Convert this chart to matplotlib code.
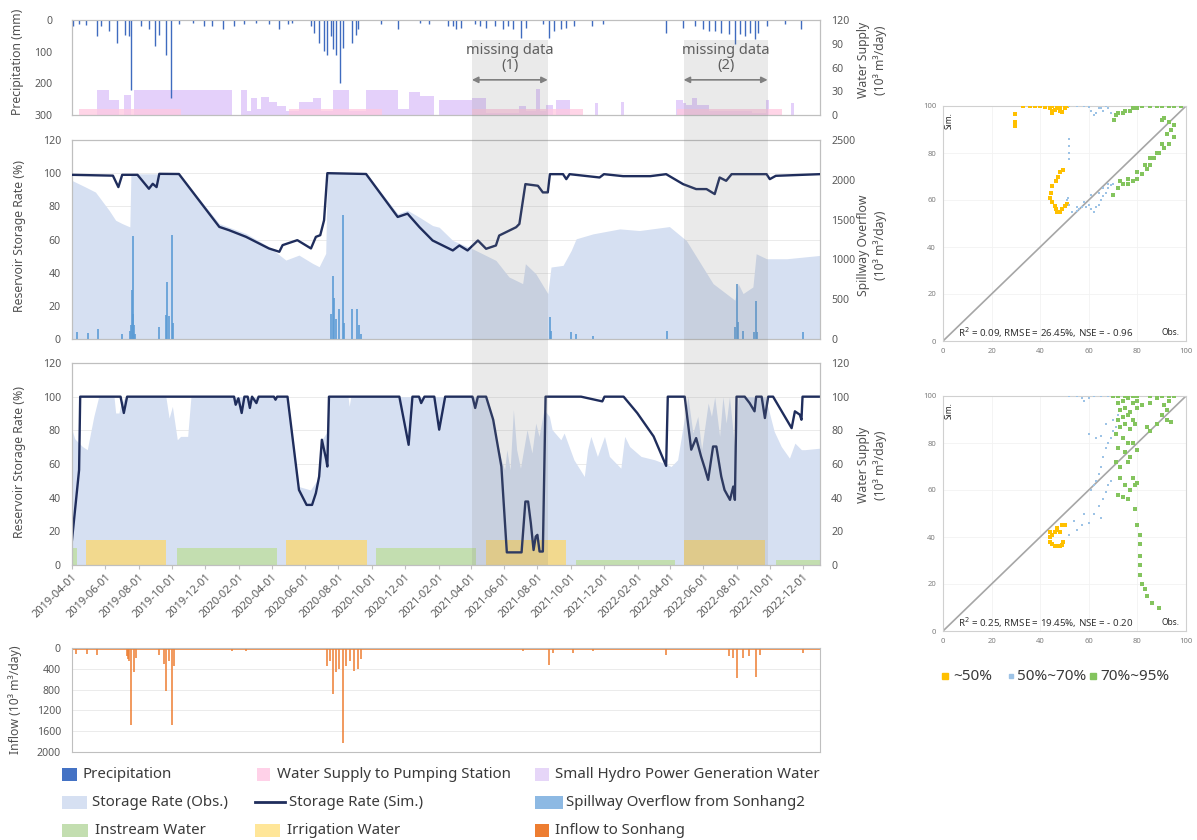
import numpy as np
import matplotlib
matplotlib.use('Agg')
import matplotlib.pyplot as plt
import matplotlib.dates as mdates
import matplotlib.transforms as mtransforms
from matplotlib.patches import Rectangle
from matplotlib.lines import Line2D

plt.rcParams['font.family'] = ['Noto Sans', 'DejaVu Sans']

START = np.datetime64('2019-04-01')
END = np.datetime64('2023-01-01')

# ---------------- data (days counted from 2019-04-01) ----------------
precip_days = [1, 13, 26, 45, 53, 68, 83, 98, 105, 109, 126, 141, 153, 160, 172, 181, 196, 221, 242,
               257, 276, 297, 316, 337, 361, 380, 395, 404, 438, 444, 453, 462, 468, 475, 478, 484,
               491, 496, 514, 520, 524, 566, 597,
               637, 655, 689, 698, 704, 713, 738, 747, 759, 775, 790, 799, 808, 823, 832, 863, 875,
               884, 896, 906, 921, 954, 973, 1089, 1120, 1141, 1156, 1168, 1178, 1190, 1205, 1215,
               1224, 1233, 1242, 1251, 1257, 1273, 1306, 1337]
precip_mm = [19, 14, 17, 51, 19, 35, 72, 46, 51, 220, 19, 30, 83, 46, 109, 247, 14, 9, 19,
             19, 30, 19, 14, 9, 14, 30, 14, 9, 19, 40, 72, 99, 109, 51, 93, 109,
             199, 88, 72, 46, 30, 14, 30,
             8, 13, 19, 19, 30, 24, 14, 19, 24, 19, 30, 19, 30, 56, 24, 14, 56,
             35, 30, 24, 19, 19, 14, 40, 24, 19, 30, 35, 35, 40, 45, 77,
             45, 51, 40, 61, 40, 19, 14, 30]

pump_days = [0, 13, 200, 398, 569, 734, 936, 1108, 1301, 1371]
pump_supply = [0, 8, 0, 8, 0, 8, 0, 8, 0, 0]

hydro_days = [0, 46, 68, 86, 95, 108, 114, 200, 294, 310, 321, 328, 340, 346, 361, 376, 392, 416,
              441, 456, 478, 508, 539, 597, 618, 637, 664, 673, 734, 759, 820, 832, 851, 857, 869,
              881, 887, 912, 958, 964, 1006, 1012, 1107, 1119, 1125, 1137, 1146, 1168, 1247, 1272,
              1278, 1318, 1324, 1371]
hydro_supply = [0, 32, 19, 0, 25, 0, 32, 31, 0, 32, 5, 21, 8, 23, 17, 11, 5, 17,
                22, 5, 32, 5, 32, 8, 29, 24, 0, 19, 21, 3, 11, 5, 33, 5, 13,
                0, 19, 0, 15, 0, 17, 0, 19, 15, 13, 21, 13, 5, 3, 19,
                0, 15, 0, 0]

# Sonhang2 reservoir (panel 2)
sim2_days = [0, 75, 85, 92, 120, 141, 148, 155, 160, 196, 270, 288, 319, 361, 380, 386, 413, 438,
             447, 455, 462, 468, 539, 597, 615, 637, 661, 698, 710, 725, 744, 759, 777, 783, 814,
             820, 831, 854, 863, 872, 876, 900, 906, 912, 967, 975, 1010, 1060, 1089, 1120, 1144,
             1163, 1178, 1187, 1199, 1209, 1273, 1279, 1290, 1371]
sim2_rate = [99, 98.5, 91.6, 99, 99, 90.6, 93.6, 91.6, 99.6, 99.5, 67.6, 65.6, 61.6, 54.6, 52.6, 56.6,
             59.6, 54.6, 61.6, 62.6, 71.6, 100, 99.5, 73.6, 75.6, 67.4, 59.4, 53.4, 56.4, 53.4, 59.4,
             54.4, 56.4, 62.4, 67.4, 69.4, 93.4, 92.4, 88.4, 88.4, 99.4, 99.4, 96.4, 99.4, 97.4,
             99.4, 98.2, 98.2, 99.4, 93.4, 90.4, 90.4, 87.4, 97.4, 95.4, 99.4, 99.4, 96.4, 98.4, 99.4]
obs2_days = [0, 25, 43, 68, 80, 92, 106, 108, 196, 270, 319, 361, 392, 416, 441, 453, 465, 468, 539,
             597, 615, 637, 661, 673, 698, 734, 777, 801, 826, 831, 850, 872, 878, 900, 915, 924,
             955, 1004, 1040, 1095, 1126, 1175, 1215, 1221, 1230, 1248, 1254, 1273, 1310, 1371]
obs2_rate = [95.6, 91.6, 88.6, 77.6, 71.6, 69.6, 67.6, 99.6, 99.6, 69.6, 63.6, 55.6, 47.6, 50.6, 45.6,
             43.6, 51.6, 100, 100, 75.6, 77.6, 73.4, 68.4, 67.4, 59.4, 54.4, 47.4, 37.4, 33.4, 45.4,
             39.4, 27.4, 43.4, 44.4, 53.4, 60.4, 63.4, 66.4, 65.4, 67.8, 59.4, 33.4, 23.4, 33.4,
             27.4, 31.4, 51.4, 48.4, 48.4, 50.4]
spill_days = [10, 30, 48, 92, 106, 108, 110, 111, 112, 114, 116, 160, 173, 175, 177, 184, 186, 475,
              478, 480, 483, 490, 496, 498, 514, 523, 526, 530, 876, 878, 915, 924, 955, 1090, 1216,
              1218, 1221, 1230, 1250, 1254, 1256, 1340]
spill_flow = [90, 80, 120, 60, 100, 170, 620, 1290, 320, 170, 60, 150, 300, 720, 290, 1310, 200, 310,
              790, 520, 250, 375, 1560, 200, 375, 375, 170, 60, 280, 100, 85, 60, 40, 104, 150,
              690, 210, 100, 85, 480, 90, 85]

# Sonhang reservoir (panel 3)
sim3_days = [0, 13, 15, 89, 95, 101, 297, 300, 305, 311, 316, 322, 326, 330, 338, 342, 370, 373, 376,
             395, 416, 430, 440, 447, 453, 458, 466, 468, 471, 600, 617, 624, 636, 640, 646, 664,
             673, 684, 734, 739, 744, 759, 772, 787, 797, 824, 831, 836, 841, 846, 850, 853, 857,
             863, 868, 933, 972, 976, 1011, 1036, 1066, 1089, 1092, 1123, 1135, 1144, 1153, 1160,
             1166, 1175, 1181, 1190, 1196, 1206, 1212, 1215, 1218, 1233, 1242, 1251, 1254, 1264,
             1270, 1276, 1285, 1319, 1325, 1334, 1337, 1339, 1371]
sim3_rate = [14.9, 56.5, 100, 100, 90.3, 100, 100, 95.2, 99, 90.3, 100, 100, 93.3, 100, 96.2, 100, 100,
             98.2, 100, 100, 44.6, 35.7, 35.7, 42.7, 52.6, 74.4, 62.5, 58.5, 100, 100, 71.4, 100,
             100, 96.2, 100, 100, 80.4, 100, 100, 93.3, 100, 100, 86.3, 58.5, 7.5, 7.5, 37.7, 37.7,
             24.8, 8.9, 16.9, 17.9, 8, 8, 100, 100, 97.2, 100, 100, 90.3, 76.4, 58.9, 100, 100, 68.5,
             75.4, 64.5, 57.3, 50.6, 70.4, 70.4, 52.6, 44.6, 38.7, 46.6, 38.7, 100, 100, 96.2, 91.3,
             100, 100, 87.3, 100, 100, 81.3, 91.3, 89.3, 86.3, 100, 100]
obs3_days = [0, 5, 19, 28, 40, 49, 77, 80, 86, 89, 98, 172, 178, 184, 193, 199, 212, 218, 395, 416,
             437, 450, 458, 466, 470, 506, 508, 511, 759, 787, 793, 797, 803, 809, 815, 822, 834, 843,
             850, 856, 865, 875, 880, 896, 902, 920, 939, 945, 951, 963, 976, 985, 1006, 1013, 1022,
             1043, 1068, 1092, 1098, 1110, 1123, 1129, 1138, 1147, 1154, 1166, 1172, 1178, 1187,
             1193, 1199, 1205, 1215, 1221, 1270, 1276, 1287, 1300, 1315, 1325, 1337, 1343, 1371]
obs3_rate = [80.4, 75, 70.4, 68.5, 88.3, 100, 100, 90.3, 90.3, 95.2, 100, 100, 87.3, 94.2, 74.4, 76.4,
             76.4, 100, 100, 46.6, 44.6, 50.6, 74.4, 78.4, 100, 100, 94.2, 100, 100, 62.5, 56.5, 68.5,
             56.5, 92.3, 68.5, 57.5, 80.4, 66.5, 84.3, 76.4, 92.3, 88.3, 80.4, 74.4, 78.4, 62.5,
             52.6, 68.5, 76.4, 64.5, 76.4, 64.5, 57.5, 76.4, 70.4, 64.5, 62.5, 59.5, 58.5, 62.5,
             88.3, 100, 78.4, 88.3, 68.5, 96.2, 88.3, 100, 76.4, 100, 84.3, 100, 68.5, 100, 100,
             93.3, 79.4, 70.4, 63.5, 72.4, 68.5, 68.5, 69.4]

irrigation_start = ['2019-04-27', '2020-04-28', '2021-04-28', '2022-04-27']
irrigation_end = ['2019-09-21', '2020-09-22', '2021-09-22', '2022-09-22']
irrigation_supply = [15, 15, 15, 15]
instream_start = ['2019-04-01', '2019-10-11', '2020-10-09', '2021-10-11', '2022-10-12']
instream_end = ['2019-04-11', '2020-04-11', '2021-04-11', '2022-04-10', '2023-01-01']
instream_supply = [10, 10, 10, 3, 3]

inflow_days = [7, 28, 46, 100, 102, 105, 109, 114, 118, 160, 168, 172, 178, 184, 187, 294, 319, 468,
               472, 478, 484, 490, 496, 502, 510, 517, 524, 530, 826, 875, 881, 918, 955, 1089, 1205,
               1212, 1218, 1230, 1240, 1254, 1261, 1340]
inflow_flow = [110, 110, 143, 150, 208, 250, 1478, 470, 200, 143, 300, 827, 250, 1478, 340, 60, 60, 340,
               250, 890, 470, 400, 1836, 340, 250, 436, 400, 208, 60, 326, 100, 100, 60, 130, 150,
               200, 586, 200, 150, 554, 130, 100]
inflow_base = 30

missing_start = ['2021-04-03', '2022-04-26']
missing_end = ['2021-08-20', '2022-09-27']
missing_labels = ['missing data\n(1)', 'missing data\n(2)']

s1_low_obs = [29.6, 29.6, 29.6, 33, 36, 38, 40, 42, 44, 45, 45, 46, 47, 48, 49, 50, 51, 44, 45, 47, 48,
              49.5, 48, 47.5, 46.5, 45, 44.5, 44, 45, 46, 46.5, 47, 48, 49, 50, 51]
s1_low_sim = [91.5, 93, 96.6, 100, 100, 100, 100, 99.5, 99, 98, 97, 98.5, 100, 98, 97.5, 99, 100, 100,
              100, 99, 99.5, 72.7, 72, 70, 68, 66, 63, 61, 59, 57.5, 56, 55, 55, 56, 57.5, 58.5]
s1_mid_obs = [51.7, 51.7, 51.7, 51.7, 52, 53, 55, 56, 57, 59, 60, 61, 62, 63, 64, 65, 66, 67, 68, 69,
              70, 55, 58, 61, 64, 66, 68, 52, 55, 58, 60, 61, 62, 63, 64, 65, 66, 67, 68, 69, 70, 51,
              51.5]
s1_mid_sim = [86, 83, 80, 77.5, 58, 55, 55.5, 56, 57, 57, 58, 56, 55, 57, 58, 60, 61.5, 63, 65, 66.5,
              67, 57, 59, 62, 63, 65, 67, 100, 100, 100, 99.5, 98, 96, 97, 99, 99, 98, 100, 99, 97,
              93.5, 60, 61]
s1_high_obs = [70.5, 71, 72, 74, 75, 77, 78, 80, 82, 85, 88, 90, 93, 95, 98,
               70, 72, 74, 76, 78, 80, 82, 84, 85, 87, 89, 91, 93, 95,
               73, 76, 80, 83, 85, 88, 90, 92, 94, 95, 93, 91, 90]
s1_high_sim = [94, 96, 97, 97, 98, 98, 99, 99, 100, 100, 100, 100, 100, 100, 100,
               62, 65, 67, 67, 68, 69, 71, 73, 75, 78, 80, 82, 84, 87,
               68, 69, 72, 75, 78, 80, 84, 88, 90, 92, 93, 95, 94]

s2_low_obs = [44, 44, 44, 45, 46, 47, 48, 49, 49.5, 48, 47, 46, 45, 47, 49, 50]
s2_low_sim = [42, 40, 38, 37, 36, 36, 36, 36.5, 38, 42, 43, 42, 41, 44, 45, 45]
s2_mid_obs = [61, 62, 63, 64, 65, 66, 67, 68, 69, 70, 71, 60, 63, 65, 67, 70, 72, 52, 55, 57, 58, 60,
              62, 65, 68, 70, 52, 55, 57, 60, 62, 64, 66, 67, 68, 69, 65, 58, 54]
s2_mid_sim = [60, 62, 64, 67, 70, 74, 78, 80, 82, 85, 87, 84, 82, 83, 88, 90, 92, 100, 100, 99, 98, 99,
              100, 100, 100, 100, 41, 43, 45, 46, 50, 53, 56, 59, 62, 64, 48, 50, 47]
s2_high_obs = [70, 72, 75, 78, 80, 85, 90, 93, 95, 72, 74, 76, 78, 80, 82, 85, 88, 93, 73, 75, 77, 80,
               72, 74, 76, 78, 73, 75, 77, 79, 71, 74, 76, 78, 72, 75, 77, 80, 71, 73, 76, 78, 80, 73,
               75, 77, 72, 74, 76, 79, 79, 80, 81, 81, 81, 81, 81, 82, 83, 84, 86, 89, 85, 88, 90,
               92, 94, 92, 91, 84]
s2_high_sim = [100, 100, 100, 100, 100, 100, 100, 100, 100, 97, 98, 99, 97, 98, 96, 97, 99, 98, 94, 95,
               93, 95, 90, 91, 92, 90, 87, 88, 86, 88, 84, 82, 80, 80, 78, 76, 74, 77, 72, 70, 72,
               65, 63, 65, 62, 60, 58, 57, 56, 62, 52, 45, 41, 37, 32, 28, 24, 20, 18, 15, 12, 10,
               85, 88, 92, 94, 89, 90, 96, 87]

stats1 = 'R$^2$ = 0.09, RMSE = 26.45%, NSE = - 0.96'
stats2 = 'R$^2$ = 0.25, RMSE = 19.45%, NSE = - 0.20'

# ---------------- helpers ----------------
W, H = 1197, 840


def to_dates(days):
    return START + np.asarray(days, dtype='int64').astype('timedelta64[D]')


def rect(x0, y0, x1, y1):
    return [x0 / W, 1 - y1 / H, (x1 - x0) / W, (y1 - y0) / H]


GRAY = '#595959'
SPINE = '#BFBFBF'
GRID = '#EBEBEB'
C_PREC = '#3F6BBF'
C_PUMP = '#FFC8E0'
C_HYDRO = '#E4D0FA'
C_OBS = '#D6E0F2'
C_SIM = '#1F2D5C'
C_SPILL = '#5B9BD5'
C_INST = '#C3DEB0'
C_IRR = '#F2D98E'
C_INF = '#ED7D31'
C_Y = '#FFC000'
C_B = '#9DC3E6'
C_G = '#84C45E'
TICK_FS = 7.6

fig = plt.figure(figsize=(W / 100, H / 100), dpi=100)


def style(ax, left_pad=8):
    for s in ax.spines.values():
        s.set_color(SPINE)
        s.set_linewidth(0.8)
    ax.tick_params(axis='y', length=0, labelsize=TICK_FS, labelcolor=GRAY, pad=left_pad)
    ax.tick_params(axis='x', length=0, labelbottom=False)
    ax.set_xlim(START, END)
    ax.yaxis.grid(True, color=GRID, lw=0.7)
    ax.set_axisbelow(True)


def style_right(ax):
    ax.tick_params(axis='y', length=0, labelsize=TICK_FS, labelcolor=GRAY, pad=8)
    for s in ax.spines.values():
        s.set_color(SPINE)
        s.set_linewidth(0.8)


def bold_ticks(ax, which='y'):
    labels = ax.get_yticklabels() if which == 'y' else ax.get_xticklabels()
    for t in labels:
        t.set_fontweight('bold')


# ---------------- panel 1 : precipitation / water supply ----------------
ax1 = fig.add_axes(rect(72, 20, 820, 115))
ax1r = ax1.twinx()
ax1r.set_zorder(ax1.get_zorder() - 1)
ax1.patch.set_visible(False)
style(ax1, left_pad=14)
ax1r.fill_between(to_dates(hydro_days), hydro_supply, step='post', color=C_HYDRO, lw=0)
ax1r.fill_between(to_dates(pump_days), pump_supply, step='post', color=C_PUMP, alpha=0.75, lw=0)
ax1.vlines(to_dates(precip_days), 0, precip_mm, color=C_PREC, lw=1.0)
ax1.set_ylim(300, 0)
ax1.set_yticks([0, 100, 200, 300])
ax1.yaxis.grid(False)
ax1r.set_ylim(0, 120)
ax1r.set_yticks([0, 30, 60, 90, 120])
style_right(ax1r)
bold_ticks(ax1)
bold_ticks(ax1r)

# ---------------- panel 2 : Sonhang2 storage ----------------
ax2 = fig.add_axes(rect(72, 140, 820, 339))
style(ax2)
ax2.fill_between(to_dates(obs2_days), 0, obs2_rate, color=C_OBS, lw=0)
ax2.set_ylim(0, 120)
ax2.set_yticks(range(0, 121, 20))
ax2r = ax2.twinx()
ax2r.vlines(to_dates(spill_days), 0, spill_flow, color=C_SPILL, lw=1.3, alpha=0.9)
ax2r.set_ylim(0, 2500)
ax2r.set_yticks(range(0, 2501, 500))
style_right(ax2r)
ax2l = ax2.twinx()
ax2l.plot(to_dates(sim2_days), sim2_rate, color=C_SIM, lw=1.7)
ax2l.set_ylim(0, 120)
ax2l.yaxis.set_visible(False)
for s in ax2l.spines.values():
    s.set_visible(False)
bold_ticks(ax2)
bold_ticks(ax2r)

# ---------------- panel 3 : Sonhang storage ----------------
ax3 = fig.add_axes(rect(72, 363, 820, 565))
style(ax3)
ax3.fill_between(to_dates(obs3_days), 0, obs3_rate, color=C_OBS, lw=0)
for s, e, v in zip(instream_start, instream_end, instream_supply):
    ax3.fill_between([np.datetime64(s), np.datetime64(e)], 0, [v, v], color=C_INST, lw=0)
for s, e, v in zip(irrigation_start, irrigation_end, irrigation_supply):
    ax3.fill_between([np.datetime64(s), np.datetime64(e)], 0, [v, v], color=C_IRR, lw=0)
ax3.plot(to_dates(sim3_days), sim3_rate, color=C_SIM, lw=1.7)
ax3.set_ylim(0, 120)
ax3.set_yticks(range(0, 121, 20))
ax3.xaxis.set_major_locator(mdates.MonthLocator(bymonth=[2, 4, 6, 8, 10, 12]))
ax3.xaxis.set_major_formatter(mdates.DateFormatter('%Y-%m-%d'))
ax3.tick_params(axis='x', length=3, color=SPINE, labelbottom=True, labelsize=8, labelcolor=GRAY,
                pad=2)
for t in ax3.get_xticklabels():
    t.set_rotation(45)
    t.set_ha('right')
    t.set_rotation_mode('anchor')
    t.set_fontweight('bold')
ax3r = ax3.twinx()
ax3r.set_ylim(0, 120)
ax3r.set_yticks(range(0, 121, 20))
style_right(ax3r)
bold_ticks(ax3)
bold_ticks(ax3r)

# ---------------- panel 4 : inflow ----------------
ax4 = fig.add_axes(rect(72, 648, 820, 752))
style(ax4)
ax4.fill_between([START, END], 0, inflow_base, color=C_INF, lw=0, alpha=0.8)
ax4.vlines(to_dates(inflow_days), 0, inflow_flow, color=C_INF, lw=1.1)
ax4.set_ylim(2000, 0)
ax4.set_yticks(range(0, 2001, 400))
bold_ticks(ax4)

# ---------------- missing-data bands ----------------
bt = mtransforms.blended_transform_factory(ax3.transData, fig.transFigure)
for s, e, lab in zip(missing_start, missing_end, missing_labels):
    x0 = mdates.date2num(np.datetime64(s))
    x1 = mdates.date2num(np.datetime64(e))
    fig.add_artist(Rectangle((x0, 1 - 565 / H), x1 - x0, (565 - 40) / H, transform=bt,
                             facecolor='#808080', alpha=0.16, edgecolor='none', zorder=5))
    ax1.annotate('', xy=(x1, 0.37), xytext=(x0, 0.37), xycoords=('data', 'axes fraction'),
                 arrowprops=dict(arrowstyle='<|-|>', color='#808080', lw=1.2, mutation_scale=9,
                                 shrinkA=0, shrinkB=0))
    ax1.text((x0 + x1) / 2, 0.60, lab, transform=ax1.get_xaxis_transform(), ha='center',
             va='center', fontsize=10.5, color=GRAY, linespacing=1.05)

# ---------------- axis titles ----------------
lab_kw = dict(rotation=90, ha='center', va='center', fontsize=8.8, color='#505050')
fig.text(18 / W, 1 - 62 / H, 'Precipitation (mm)', **lab_kw)
fig.text(20 / W, 1 - 236 / H, 'Reservoir Storage Rate (%)', **lab_kw)
fig.text(20 / W, 1 - 462 / H, 'Reservoir Storage Rate (%)', **lab_kw)
fig.text(15 / W, 1 - 700 / H, 'Inflow (10³ m³/day)', **lab_kw)
fig.text(872 / W, 1 - 60 / H, 'Water Supply\n(10³ m³/day)', linespacing=1.3, **lab_kw)
fig.text(872 / W, 1 - 245 / H, 'Spillway Overflow\n(10³ m³/day)', linespacing=1.3, **lab_kw)
fig.text(872 / W, 1 - 465 / H, 'Water Supply\n(10³ m³/day)', linespacing=1.3, **lab_kw)

# ---------------- legend ----------------
LEG_TXT = '#3A3A3A'
LEG_FS = 10.8


def leg_box(x0, x1, yc, color, text, tx):
    fig.add_artist(Rectangle((x0 / W, 1 - (yc + 6.5) / H), (x1 - x0) / W, 13 / H,
                             transform=fig.transFigure, facecolor=color, edgecolor='none'))
    fig.text(tx / W, 1 - yc / H, text, ha='left', va='center', fontsize=LEG_FS, color=LEG_TXT)


leg_box(62, 77, 774, '#4472C4', 'Precipitation', 82)
leg_box(62, 87, 802, C_OBS, 'Storage Rate (Obs.)', 92)
leg_box(62, 88, 830, C_INST, 'Instream Water', 95)
leg_box(257, 270, 774, '#FFD1E8', 'Water Supply to Pumping Station', 277)
fig.add_artist(Line2D([255 / W, 285 / W], [1 - 802 / H, 1 - 802 / H], transform=fig.transFigure,
                      color=C_SIM, lw=2))
fig.text(289 / W, 1 - 802 / H, 'Storage Rate (Sim.)', ha='left', va='center', fontsize=LEG_FS,
         color=LEG_TXT)
leg_box(255, 280, 830, '#FFE699', 'Irrigation Water', 287)
leg_box(535, 549, 774, '#E6D6F8', 'Small Hydro Power Generation Water', 555)
leg_box(535, 563, 802, '#8DB9E3', 'Spillway Overflow from Sonhang2', 566)
leg_box(535, 549, 830, C_INF, 'Inflow to Sonhang', 555)


# ---------------- scatter plots ----------------
def scatter_panel(box, low, mid, high, stats):
    ax = fig.add_axes(rect(*box))
    ax.set_xlim(0, 100)
    ax.set_ylim(0, 100)
    ax.set_xticks(range(0, 101, 20))
    ax.set_yticks(range(0, 101, 20))
    ax.tick_params(length=0, labelsize=5.5, labelcolor='#7F7F7F', pad=5)
    for s in ax.spines.values():
        s.set_color('#D0D0D0')
        s.set_linewidth(0.8)
    ax.grid(True, color='#F2F2F2', lw=0.6)
    ax.set_axisbelow(True)
    ax.plot([0, 100], [0, 100], color='#A6A6A6', lw=1.2, zorder=2)
    ax.scatter(low[0], low[1], s=6, marker='s', color=C_Y, lw=0, zorder=3)
    ax.scatter(mid[0], mid[1], s=3.5, marker='s', color=C_B, lw=0, zorder=3)
    ax.scatter(high[0], high[1], s=6, marker='s', color=C_G, lw=0, zorder=3)
    ax.text(0.025, 0.975, 'Sim.', transform=ax.transAxes, rotation=90, ha='center', va='top',
            fontsize=6, fontweight='bold', color='#262626')
    ax.text(0.975, 0.035, 'Obs.', transform=ax.transAxes, ha='right', va='center', fontsize=6,
            fontweight='bold', color='#262626')
    ax.text(0.06, 0.035, stats, transform=ax.transAxes, ha='left', va='center', fontsize=7,
            color='#333333')
    return ax


scatter_panel((943, 106, 1186, 341), (s1_low_obs, s1_low_sim), (s1_mid_obs, s1_mid_sim),
              (s1_high_obs, s1_high_sim), stats1)
scatter_panel((943, 396, 1186, 631), (s2_low_obs, s2_low_sim), (s2_mid_obs, s2_mid_sim),
              (s2_high_obs, s2_high_sim), stats2)

# scatter legend
for mx, col, ms, tx, txt in [(945, C_Y, 4.5, 953, '~50%'), (1011, C_B, 2.5, 1017, '50%~70%'),
                             (1093, C_G, 4.5, 1100, '70%~95%')]:
    fig.add_artist(Line2D([mx / W], [1 - 676 / H], transform=fig.transFigure, marker='s',
                          markersize=ms, color=col, lw=0))
    fig.text(tx / W, 1 - 676 / H, txt, ha='left', va='center', fontsize=11, color=LEG_TXT)

fig.savefig('out.png', dpi=100)
